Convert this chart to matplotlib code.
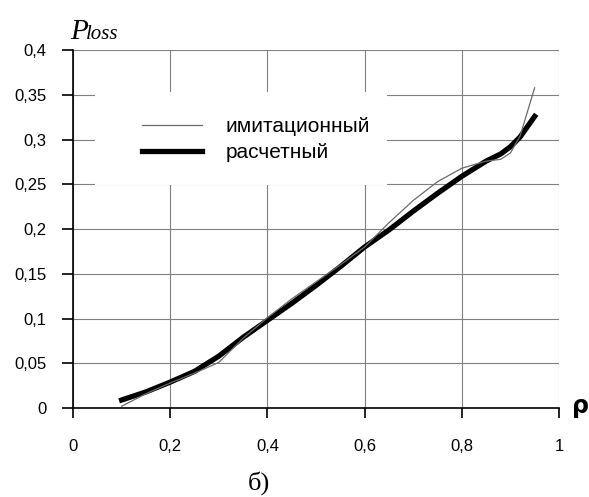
import matplotlib
matplotlib.use("Agg")
import matplotlib.pyplot as plt
from matplotlib.patches import Rectangle
from matplotlib.ticker import FixedLocator, FuncFormatter

# загрузка rho и потери P_loss
rho = [0.10, 0.15, 0.20, 0.25, 0.30, 0.35, 0.40, 0.45, 0.50, 0.55,
       0.60, 0.65, 0.70, 0.75, 0.80, 0.85, 0.88, 0.90, 0.92, 0.95]
p_sim = [0.002, 0.016, 0.028, 0.039, 0.051, 0.078, 0.101, 0.122, 0.141, 0.160,
         0.180, 0.207, 0.232, 0.253, 0.268, 0.276, 0.278, 0.285, 0.304, 0.358]
p_calc = [0.009, 0.018, 0.029, 0.041, 0.058, 0.079, 0.098, 0.117, 0.137, 0.158,
          0.180, 0.199, 0.220, 0.240, 0.259, 0.276, 0.284, 0.292, 0.303, 0.326]

x_ticks = [0, 0.2, 0.4, 0.6, 0.8, 1.0]
y_ticks = [0, 0.05, 0.1, 0.15, 0.2, 0.25, 0.3, 0.35, 0.4]
labels = ["имитационный", "расчетный"]


def comma(v, pos=None):
    s = f"{v:.2f}".rstrip("0").rstrip(".")
    return s.replace(".", ",")


fig = plt.figure(figsize=(5.89, 4.97), dpi=100)
ax = fig.add_axes([0.124, 0.179, 0.825, 0.720])

ax.plot(rho, p_sim, color="#6a6a6a", lw=0.9, label=labels[0], zorder=4)
ax.plot(rho, p_calc, color="black", lw=3.8, label=labels[1], zorder=3)

ax.set_xlim(0, 1)
ax.set_ylim(0, 0.4)
ax.xaxis.set_major_locator(FixedLocator(x_ticks))
ax.yaxis.set_major_locator(FixedLocator(y_ticks))
ax.xaxis.set_major_formatter(FuncFormatter(comma))
ax.yaxis.set_major_formatter(FuncFormatter(comma))

ax.grid(True, color="#808080", lw=0.8)
ax.set_axisbelow(True)
for side in ("top", "right"):
    ax.spines[side].set_visible(False)
for side in ("left", "bottom"):
    ax.spines[side].set_linewidth(1.2)

ax.tick_params(axis="x", direction="out", length=7, width=1.2, pad=15,
               labelsize=12, labelfontfamily="Liberation Sans")
ax.tick_params(axis="y", direction="out", length=8, width=1.2, pad=11,
               labelsize=12, labelfontfamily="Liberation Sans")

# белое поле под легендой
ax.add_patch(Rectangle((0.045, 0.623), 0.601, 0.26, transform=ax.transAxes,
                       facecolor="white", edgecolor="none", zorder=2))
ax.legend(loc="upper left", bbox_to_anchor=(0.142, 0.812), frameon=False,
          prop={"family": "Liberation Sans", "size": 15},
          handlelength=2.9, handletextpad=1.1, labelspacing=0.33,
          borderpad=0, borderaxespad=0)

fig.text(0.119, 0.9215, "P", family="Liberation Serif", style="italic",
         fontsize=21, ha="left", va="baseline")
fig.text(0.146, 0.9215, "loss", family="Liberation Serif", style="italic",
         fontsize=15, ha="left", va="baseline")

fig.text(0.986, 0.169, "ρ", family="DejaVu Sans",
         weight="bold", fontsize=17, ha="center", va="baseline")
fig.text(0.44, 0.014, "б)", family="Liberation Serif", fontsize=19,
         ha="center", va="baseline")

fig.savefig("out.png", dpi=100)
